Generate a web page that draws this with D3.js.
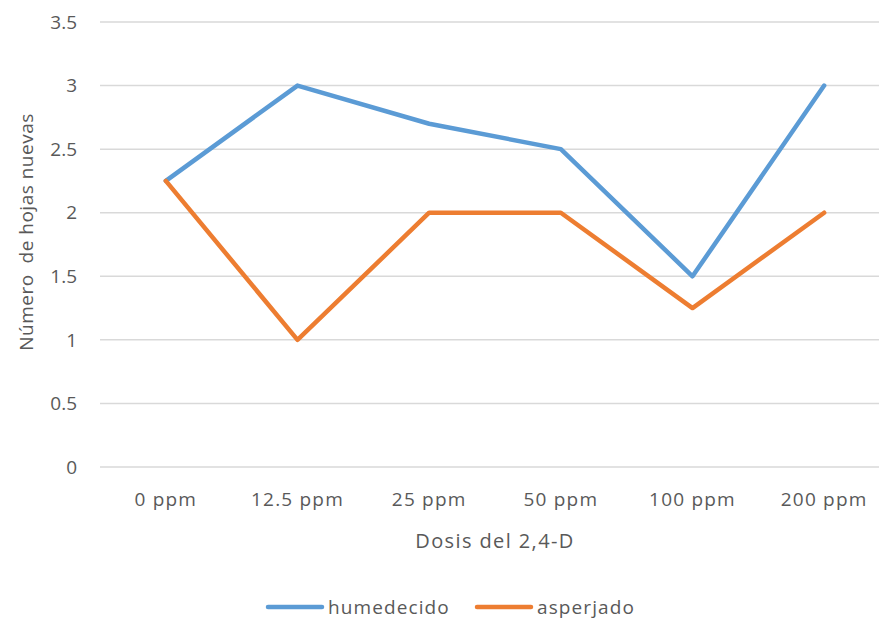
<!DOCTYPE html>
<html>
<head>
<meta charset="utf-8">
<script src="https://cdn.jsdelivr.net/npm/d3@7"></script>
<style>
  body { margin: 0; background: #fff; }
  text { font-family: "Open Sans", sans-serif; fill: #595959; }
</style>
</head>
<body>
<div id="chart"></div>
<script>
// chart data
const categories = ["0 ppm", "12.5 ppm", "25 ppm", "50 ppm", "100 ppm", "200 ppm"];
const humedecido = [2.25, 3, 2.7, 2.5, 1.5, 3];
const asperjado = [2.25, 1, 2, 2, 1.25, 2];
const yTicks = [0, 0.5, 1, 1.5, 2, 2.5, 3, 3.5];
const seriesNames = ["humedecido", "asperjado"];
const seriesColors = ["#5B9BD5", "#ED7D31"];

const width = 879;
const height = 619;
const margin = { top: 22, left: 100, right: -11, bottom: 152 };

const svg = d3.select("#chart")
  .append("svg")
  .attr("width", width)
  .attr("height", height);

const x = d3.scaleBand()
  .domain(categories)
  .range([margin.left, width - margin.right]);

const y = d3.scaleLinear()
  .domain([0, 3.5])
  .range([height - margin.bottom, margin.top]);

// gridlines
svg.append("g")
  .selectAll("line")
  .data(yTicks)
  .enter()
  .append("line")
  .attr("x1", margin.left)
  .attr("x2", width - margin.right)
  .attr("y1", d => y(d))
  .attr("y2", d => y(d))
  .attr("stroke", "#D9D9D9")
  .attr("stroke-width", 1.5);

// y tick labels
svg.append("g")
  .selectAll("text")
  .data(yTicks)
  .enter()
  .append("text")
  .attr("x", 77)
  .attr("y", d => y(d))
  .attr("dy", "0.35em")
  .attr("text-anchor", "end")
  .style("font-size", "19px")
  .text(d => d);

// x tick labels
svg.append("g")
  .selectAll("text")
  .data(categories)
  .enter()
  .append("text")
  .attr("x", d => x(d) + x.bandwidth() / 2)
  .attr("y", 506)
  .attr("text-anchor", "middle")
  .style("font-size", "19px")
  .style("letter-spacing", "1.2px")
  .text(d => d);

// axis titles
svg.append("text")
  .attr("x", 495)
  .attr("y", 548)
  .attr("text-anchor", "middle")
  .style("font-size", "20px")
  .style("letter-spacing", "1.4px")
  .text("Dosis del 2,4-D");

svg.append("text")
  .attr("transform", "translate(33,232) rotate(-90)")
  .attr("text-anchor", "middle")
  .style("font-size", "19px")
  .style("letter-spacing", "0.5px")
  .style("white-space", "pre")
  .text("Número  de hojas nuevas");

// lines
const line = d3.line()
  .x((d, i) => x(categories[i]) + x.bandwidth() / 2)
  .y(d => y(d));

[humedecido, asperjado].forEach((vals, k) => {
  svg.append("path")
    .attr("d", line(vals))
    .attr("fill", "none")
    .attr("stroke", seriesColors[k])
    .attr("stroke-width", 4.5)
    .attr("stroke-linecap", "round")
    .attr("stroke-linejoin", "round");
});

// legend
const legendX = [268, 477];
const legend = svg.append("g");
seriesNames.forEach((name, k) => {
  legend.append("line")
    .attr("x1", legendX[k])
    .attr("x2", legendX[k] + 54)
    .attr("y1", 607)
    .attr("y2", 607)
    .attr("stroke", seriesColors[k])
    .attr("stroke-width", 4.5)
    .attr("stroke-linecap", "round");
  legend.append("text")
    .attr("x", legendX[k] + 60)
    .attr("y", 607)
    .attr("dy", "0.35em")
    .style("font-size", "19px")
    .style("letter-spacing", "1.1px")
    .text(name);
});
</script>
</body>
</html>
